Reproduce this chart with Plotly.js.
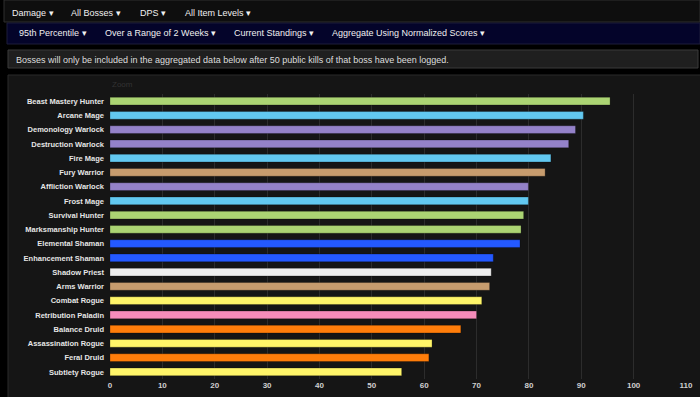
<!DOCTYPE html>
<html>
<head>
<meta charset="utf-8">
<script src="https://cdn.plot.ly/plotly-3.0.1.min.js"></script>
<style>
html,body{margin:0;padding:0;background:#000;}
#chart{width:700px;height:397px;}
</style>
</head>
<body>
<div id="chart"></div>
<script>
// ---- data ----
const specs = [
  "Beast Mastery Hunter","Arcane Mage","Demonology Warlock","Destruction Warlock",
  "Fire Mage","Fury Warrior","Affliction Warlock","Frost Mage","Survival Hunter",
  "Marksmanship Hunter","Elemental Shaman","Enhancement Shaman","Shadow Priest",
  "Arms Warrior","Combat Rogue","Retribution Paladin","Balance Druid",
  "Assassination Rogue","Feral Druid","Subtlety Rogue"
];
const scores = [95.5, 90.4, 88.9, 87.6, 84.2, 83.1, 79.9, 79.9, 79.0, 78.5,
                78.3, 73.2, 72.8, 72.5, 71.0, 70.0, 67.0, 61.5, 60.9, 55.7];
const specClass = ["Hunter","Mage","Warlock","Warlock","Mage","Warrior","Warlock","Mage","Hunter",
  "Hunter","Shaman","Shaman","Priest","Warrior","Rogue","Paladin","Druid","Rogue","Druid","Rogue"];
const xTicks = [0,10,20,30,40,50,60,70,80,90,100,110];
const menuRow1 = ["Damage ▾","All Bosses ▾","DPS ▾","All Item Levels ▾"];
const menuRow2 = ["95th Percentile ▾","Over a Range of 2 Weeks ▾","Current Standings ▾","Aggregate Using Normalized Scores ▾"];
const notice = "Bosses will only be included in the aggregated data below after 50 public kills of that boss have been logged.";

// ---- styles ----
const classColor = {
  Hunter:"#abd473", Mage:"#62c8f0", Warlock:"#9482c9", Warrior:"#c79c6e",
  Shaman:"#2459ff", Priest:"#eeeeee", Rogue:"#fff569", Paladin:"#f58cba", Druid:"#ff7d0a"
};
const W=700,H=397,ML=110,MR=14,MT=94,MB=18;
const PW=W-ML-MR, PH=H-MT-MB;
const px=x=>(x-ML)/PW;            // pixel -> paper x
const py=y=>1-(y-MT)/PH;           // pixel -> paper y

const row1X=[10,69,138,183];
const row2X=[17,103,232,330];
const hdrFont={family:"Liberation Sans, Arial",size:9,color:"#f0f0f0"};

const shapes=[
  {type:"rect",xref:"paper",yref:"paper",x0:px(4),x1:px(700),y0:py(0),y1:py(22),fillcolor:"#0e0e0e",line:{color:"#2e2e2e",width:1},layer:"below"},
  {type:"rect",xref:"paper",yref:"paper",x0:px(7),x1:px(700),y0:py(23),y1:py(44),fillcolor:"#04042a",line:{color:"#1c1c3a",width:1},layer:"below"},
  {type:"rect",xref:"paper",yref:"paper",x0:px(8),x1:px(698),y0:py(50),y1:py(68),fillcolor:"#1f1f1f",line:{color:"#3a3a3a",width:1},layer:"below"},
  {type:"rect",xref:"paper",yref:"paper",x0:px(8),x1:px(702),y0:py(75),y1:py(400),fillcolor:"#151515",line:{color:"#2a2a2a",width:1},layer:"below"}
];
const annotations=[];
menuRow1.forEach((t,i)=>annotations.push({text:t,xref:"paper",yref:"paper",x:px(row1X[i]),y:py(12.5),xanchor:"left",yanchor:"middle",showarrow:false,font:hdrFont}));
menuRow2.forEach((t,i)=>annotations.push({text:t,xref:"paper",yref:"paper",x:px(row2X[i]),y:py(33),xanchor:"left",yanchor:"middle",showarrow:false,font:hdrFont}));
annotations.push({text:notice,xref:"paper",yref:"paper",x:px(14),y:py(59.5),xanchor:"left",yanchor:"middle",showarrow:false,font:{family:"Liberation Sans, Arial",size:9,color:"#dddddd"}});
annotations.push({text:"Zoom",xref:"paper",yref:"paper",x:px(110),y:py(85),xanchor:"left",yanchor:"middle",showarrow:false,font:{family:"Liberation Sans, Arial",size:8,color:"#333333"}});

const trace={
  type:"bar",orientation:"h",
  x:scores,y:specs,
  marker:{color:specClass.map(c=>classColor[c]),line:{color:"rgba(0,0,0,0.5)",width:0.5}},
  width:0.54,
  hoverinfo:"x+y"
};
const layout={
  width:W,height:H,
  margin:{l:ML,r:MR,t:MT,b:MB,pad:0},
  paper_bgcolor:"#000000",
  plot_bgcolor:"rgba(0,0,0,0)",
  showlegend:false,
  xaxis:{range:[0,110],tickvals:xTicks,ticktext:xTicks.map(String),showgrid:true,gridcolor:"#2c2c2c",gridwidth:1,
    zeroline:false,showline:false,ticks:"",tickfont:{family:"Liberation Sans, Arial",size:8,color:"#d0d0d0",weight:"bold"},fixedrange:true},
  yaxis:{type:"category",autorange:"reversed",showgrid:false,zeroline:false,showline:false,ticks:"",
    ticklabelstandoff:5,tickfont:{family:"Liberation Sans, Arial",size:7.5,color:"#e6e6e6",weight:"bold"},fixedrange:true},
  shapes:shapes,
  annotations:annotations
};
Plotly.newPlot("chart",[trace],layout,{displayModeBar:false,staticPlot:true});
</script>
</body>
</html>
